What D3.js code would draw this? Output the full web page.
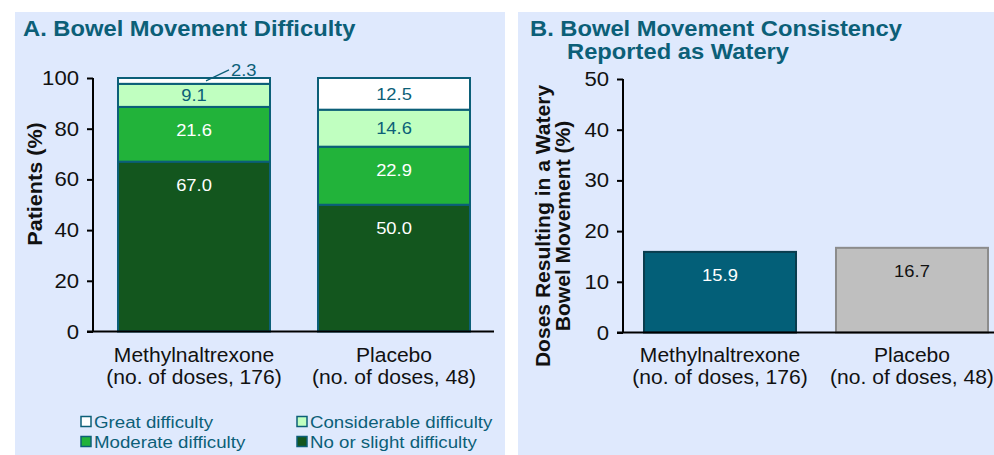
<!DOCTYPE html>
<html>
<head>
<meta charset="utf-8">
<script src="https://cdn.jsdelivr.net/npm/d3@7"></script>
<style>
  html, body { margin: 0; padding: 0; background: #ffffff; }
  svg { display: block; font-family: Arial, "Liberation Sans", Helvetica, sans-serif; }
</style>
</head>
<body>
<svg id="chart" width="994" height="455"></svg>
<script>
// Panel A: stacked shares of bowel movement difficulty (%)
const groups = ["Methylnaltrexone", "Placebo"];
const groupSub = ["(no. of doses, 176)", "(no. of doses, 48)"];
const difficultyKeys = ["none", "moderate", "considerable", "great"];
const difficultyNames = ["No or slight difficulty", "Moderate difficulty", "Considerable difficulty", "Great difficulty"];
const noneVals = [67.0, 50.0];
const moderateVals = [21.6, 22.9];
const considerableVals = [9.1, 14.6];
const greatVals = [2.3, 12.5];
const ticksA = [0, 20, 40, 60, 80, 100];

// Panel B: doses resulting in a watery bowel movement (%)
const wateryVals = [15.9, 16.7];
const ticksB = [0, 10, 20, 30, 40, 50];

const TEAL = "#0c5f78";
const BG = "#dfe9fd";
const SX = 1.08; // the lettering is set slightly wide
const segColors = { none: "#13561e", moderate: "#22b33a", considerable: "#c0ffc0", great: "#ffffff" };
const segText = { none: "#ffffff", moderate: "#ffffff", considerable: TEAL, great: TEAL };

// widen a text element horizontally around its anchor point
function widen(sel, ax, ay) {
  sel.attr("transform", `translate(${ax},${ay}) scale(${SX},1) translate(${-ax},${-ay})`);
  return sel;
}

const svg = d3.select("#chart");

// panel backgrounds
svg.append("rect").attr("x", 15).attr("y", 12).attr("width", 490).attr("height", 443).attr("fill", BG);
svg.append("rect").attr("x", 518).attr("y", 12).attr("width", 476).attr("height", 443).attr("fill", BG);

// ---------- Panel A ----------
const gA = svg.append("g");
widen(gA.append("text").attr("x", 23).attr("y", 36)
  .attr("font-size", 22).attr("font-weight", "bold").attr("fill", TEAL)
  .text("A. Bowel Movement Difficulty"), 23, 36);

const yA = d3.scaleLinear().domain([0, 100]).range([331.5, 78]);
const xA = d3.scaleBand().domain(groups).range([94, 494]).paddingInner(0.24).paddingOuter(0.12);

const rows = groups.map((g, i) => ({
  group: g,
  none: noneVals[i], moderate: moderateVals[i],
  considerable: considerableVals[i], great: greatVals[i]
}));
const stacked = d3.stack().keys(difficultyKeys)(rows);

stacked.forEach(layer => {
  const key = layer.key;
  layer.forEach(d => {
    const x = xA(d.data.group), w = xA.bandwidth();
    const y0 = yA(d[0]), y1 = yA(d[1]);
    gA.append("rect").attr("x", x).attr("y", y1).attr("width", w).attr("height", y0 - y1)
      .attr("fill", segColors[key]).attr("stroke", TEAL).attr("stroke-width", 2);
    const v = d[1] - d[0];
    const label = v.toFixed(1);
    if (y0 - y1 > 12) {
      const ly = Math.min((y0 + y1) / 2, y1 + 23.5);
      widen(gA.append("text").attr("x", x + w / 2).attr("y", ly).attr("dy", "0.35em")
        .attr("text-anchor", "middle").attr("font-size", 17)
        .attr("fill", segText[key]).text(label), x + w / 2, ly);
    } else {
      // thin segment: label outside with a leader line
      const cx = x + w / 2 + 12, cy = (y0 + y1) / 2;
      gA.append("line").attr("x1", cx).attr("y1", cy).attr("x2", cx + 23).attr("y2", cy - 11)
        .attr("stroke", TEAL).attr("stroke-width", 1.2);
      widen(gA.append("text").attr("x", cx + 25).attr("y", cy - 11).attr("dy", "0.35em")
        .attr("font-size", 17).attr("fill", TEAL).text(label), cx + 25, cy - 11);
    }
  });
});

// axes A
const axA = gA.append("g").attr("transform", "translate(93,0)")
  .call(d3.axisLeft(yA).tickValues(ticksA).tickSize(6).tickPadding(8).tickFormat(d3.format("d")));
axA.select(".domain").attr("d", `M0,${yA(100)}V${yA(0)}`).attr("stroke", "#000").attr("stroke-width", 2);
axA.selectAll(".tick line").attr("stroke", "#000").attr("stroke-width", 2);
axA.selectAll(".tick text").attr("font-size", 20.5).attr("fill", "#111")
  .attr("font-family", "Arial, 'Liberation Sans', sans-serif")
  .attr("transform", `translate(-14,0) scale(${SX},1) translate(14,0)`);
gA.append("line").attr("x1", 87).attr("x2", 494).attr("y1", yA(0)).attr("y2", yA(0))
  .attr("stroke", "#000").attr("stroke-width", 2);

gA.append("text").attr("transform", `translate(42,184) rotate(-90) scale(${SX},1)`)
  .attr("text-anchor", "middle").attr("font-size", 20).attr("font-weight", "bold").attr("fill", "#111")
  .text("Patients (%)");

groups.forEach((g, i) => {
  const cx = xA(g) + xA.bandwidth() / 2;
  const t = gA.append("text").attr("x", cx).attr("text-anchor", "middle")
    .attr("font-size", 19.5).attr("fill", "#111");
  t.append("tspan").attr("x", cx).attr("y", 362).text(g);
  t.append("tspan").attr("x", cx).attr("y", 384).text(groupSub[i]);
  widen(t, cx, 370);
});

// legend A
const legendOrder = [
  { key: "great", col: 0, row: 0 },
  { key: "considerable", col: 1, row: 0 },
  { key: "moderate", col: 0, row: 1 },
  { key: "none", col: 1, row: 1 }
];
legendOrder.forEach(item => {
  const lx = item.col === 0 ? 80 : 296;
  const ly = item.row === 0 ? 421.5 : 441.5;
  gA.append("rect").attr("x", lx + 1).attr("y", ly - 5).attr("width", 10).attr("height", 10)
    .attr("fill", segColors[item.key]).attr("stroke", TEAL).attr("stroke-width", 1.5);
  widen(gA.append("text").attr("x", lx + 14).attr("y", ly).attr("dy", "0.35em")
    .attr("font-size", 17.3).attr("fill", TEAL)
    .text(difficultyNames[difficultyKeys.indexOf(item.key)]), lx + 14, ly);
});

// ---------- Panel B ----------
const gB = svg.append("g");
const titleB = gB.append("text").attr("font-size", 22).attr("font-weight", "bold").attr("fill", TEAL);
titleB.append("tspan").attr("x", 530).attr("y", 36).text("B. Bowel Movement Consistency");
titleB.append("tspan").attr("x", 530 + 37 / SX).attr("y", 59).text("Reported as Watery");
widen(titleB, 530, 36);

const yB = d3.scaleLinear().domain([0, 50]).range([332.5, 79]);
const xB = d3.scaleBand().domain(groups).range([623, 1009]).paddingInner(0.2083).paddingOuter(0.1094);
const barFill = ["#035f78", "#bfbfbf"];
const barStroke = ["#0a3d4e", "#8c8c8c"];
const barText = ["#ffffff", "#111111"];

groups.forEach((g, i) => {
  const x = xB(g), w = xB.bandwidth();
  const y1 = yB(wateryVals[i]);
  gB.append("rect").attr("x", x).attr("y", y1).attr("width", w).attr("height", yB(0) - y1)
    .attr("fill", barFill[i]).attr("stroke", barStroke[i]).attr("stroke-width", 2);
  widen(gB.append("text").attr("x", x + w / 2).attr("y", y1 + 23.5).attr("dy", "0.35em")
    .attr("text-anchor", "middle").attr("font-size", 17).attr("fill", barText[i])
    .text(wateryVals[i].toFixed(1)), x + w / 2, y1 + 23.5);
});

const axB = gB.append("g").attr("transform", "translate(623,0)")
  .call(d3.axisLeft(yB).tickValues(ticksB).tickSize(6).tickPadding(8).tickFormat(d3.format("d")));
axB.select(".domain").attr("d", `M0,${yB(50)}V${yB(0)}`).attr("stroke", "#000").attr("stroke-width", 2);
axB.selectAll(".tick line").attr("stroke", "#000").attr("stroke-width", 2);
axB.selectAll(".tick text").attr("font-size", 20.5).attr("fill", "#111")
  .attr("font-family", "Arial, 'Liberation Sans', sans-serif")
  .attr("transform", `translate(-14,0) scale(${SX},1) translate(14,0)`);
gB.append("line").attr("x1", 617).attr("x2", 994).attr("y1", yB(0)).attr("y2", yB(0))
  .attr("stroke", "#000").attr("stroke-width", 2);

const ytB = gB.append("text").attr("transform", `translate(0,226) rotate(-90) scale(${SX},1)`)
  .attr("text-anchor", "middle").attr("font-size", 19.5).attr("font-weight", "bold").attr("fill", "#111");
ytB.append("tspan").attr("x", 0).attr("y", 550).text("Doses Resulting in a Watery");
ytB.append("tspan").attr("x", 0).attr("y", 570).text("Bowel Movement (%)");

groups.forEach((g, i) => {
  const cx = xB(g) + xB.bandwidth() / 2;
  const t = gB.append("text").attr("x", cx).attr("text-anchor", "middle")
    .attr("font-size", 19.5).attr("fill", "#111");
  t.append("tspan").attr("x", cx).attr("y", 362).text(g);
  t.append("tspan").attr("x", cx).attr("y", 384).text(groupSub[i]);
  widen(t, cx, 370);
});
</script>
</body>
</html>
